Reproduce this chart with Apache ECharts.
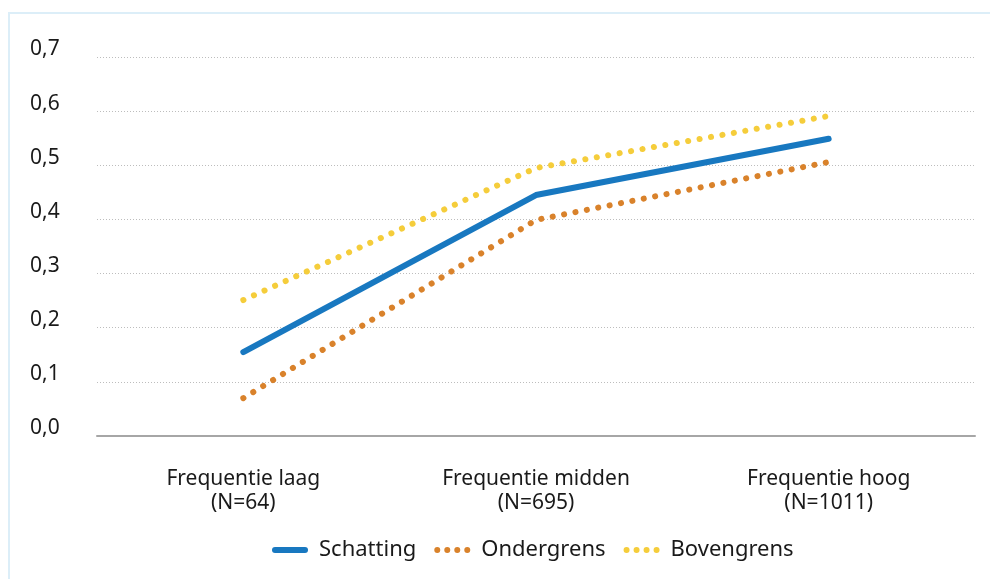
<!DOCTYPE html>
<html>
<head>
<meta charset="utf-8">
<script src="https://cdn.jsdelivr.net/npm/echarts@6/dist/echarts.min.js"></script>
<style>
html,body{margin:0;padding:0;background:#fff;}
#c{width:990px;height:579px;}
</style>
</head>
<body>
<div id="c"></div>
<script>
const categories = ['Frequentie laag\n(N=64)', 'Frequentie midden\n(N=695)', 'Frequentie hoog\n(N=1011)'];
const schatting = [0.155, 0.445, 0.549];
const ondergrens = [0.07, 0.399, 0.506];
const bovengrens = [0.251, 0.495, 0.591];
const yTicks = [0, 0.1, 0.2, 0.3, 0.4, 0.5, 0.6, 0.7];
const legendNames = ['Schatting', 'Ondergrens', 'Bovengrens'];

const font = 'Noto Sans';
const chart = echarts.init(document.getElementById('c'));
const dotted = [0.1, 11.5];
function dotsPath() {
  let p = '';
  for (let i = 0; i < 4; i++) {
    const cx = 3 + i * 10;
    p += 'M' + cx + ',0 A3,3 0 1,1 ' + cx + ',6 A3,3 0 1,1 ' + cx + ',0 Z ';
  }
  return 'path://' + p;
}
const barPath = 'path://M3,0 L33,0 A3,3 0 0,1 33,6 L3,6 A3,3 0 0,1 3,0 Z';
chart.setOption({
  animation: false,
  backgroundColor: '#fff',
  textStyle: { fontFamily: font },
  graphic: [{
    type: 'polyline',
    shape: { points: [[9, 600], [9, 13], [1000, 13]] },
    style: { stroke: '#dceef8', lineWidth: 2, fill: null },
    silent: true
  }],
  grid: { left: 97, right: 15, top: 57, bottom: 143 },
  legend: {
    bottom: 13,
    left: 267,
    itemWidth: 36,
    itemHeight: 6,
    itemGap: 18,
    symbolKeepAspect: true,
    textStyle: { fontFamily: font, fontSize: 22, color: '#1a1a1a', padding: [0, 0, 0, 6] },
    data: [
      { name: legendNames[0], icon: barPath },
      { name: legendNames[1], icon: dotsPath() },
      { name: legendNames[2], icon: dotsPath() }
    ]
  },
  xAxis: {
    type: 'category',
    data: categories,
    boundaryGap: true,
    axisLine: { lineStyle: { color: '#a6a6a6', width: 2 } },
    axisTick: { show: false },
    axisLabel: { fontFamily: font, fontSize: 21, color: '#1a1a1a', margin: 31, lineHeight: 24 }
  },
  yAxis: {
    type: 'value',
    min: 0,
    max: 0.7,
    interval: 0.1,
    axisLine: { show: false },
    axisTick: { show: false },
    splitLine: { lineStyle: { color: '#bdbdbd', type: [1, 2], width: 1 } },
    axisLabel: {
      fontFamily: font, fontSize: 21, color: '#1a1a1a',
      align: 'left', margin: 67, verticalAlign: 'bottom', padding: [0, 0, -3, 0],
      formatter: v => {
        const t = yTicks.find(x => Math.abs(x - v) < 1e-9);
        return (t !== undefined ? t : v).toFixed(1).replace('.', ',');
      }
    }
  },
  series: [
    {
      name: legendNames[0], type: 'line', data: schatting,
      symbol: 'none', color: '#1878c0',
      lineStyle: { width: 6, color: '#1878c0', cap: 'round', join: 'round' },
      z: 3
    },
    {
      name: legendNames[1], type: 'line', data: ondergrens,
      symbol: 'none', color: '#d9822b',
      lineStyle: { width: 6, color: '#d9822b', type: dotted, cap: 'round' },
      z: 2
    },
    {
      name: legendNames[2], type: 'line', data: bovengrens,
      symbol: 'none', color: '#f5cd3b',
      lineStyle: { width: 6, color: '#f5cd3b', type: dotted, cap: 'round' },
      z: 2
    }
  ]
});
</script>
</body>
</html>
